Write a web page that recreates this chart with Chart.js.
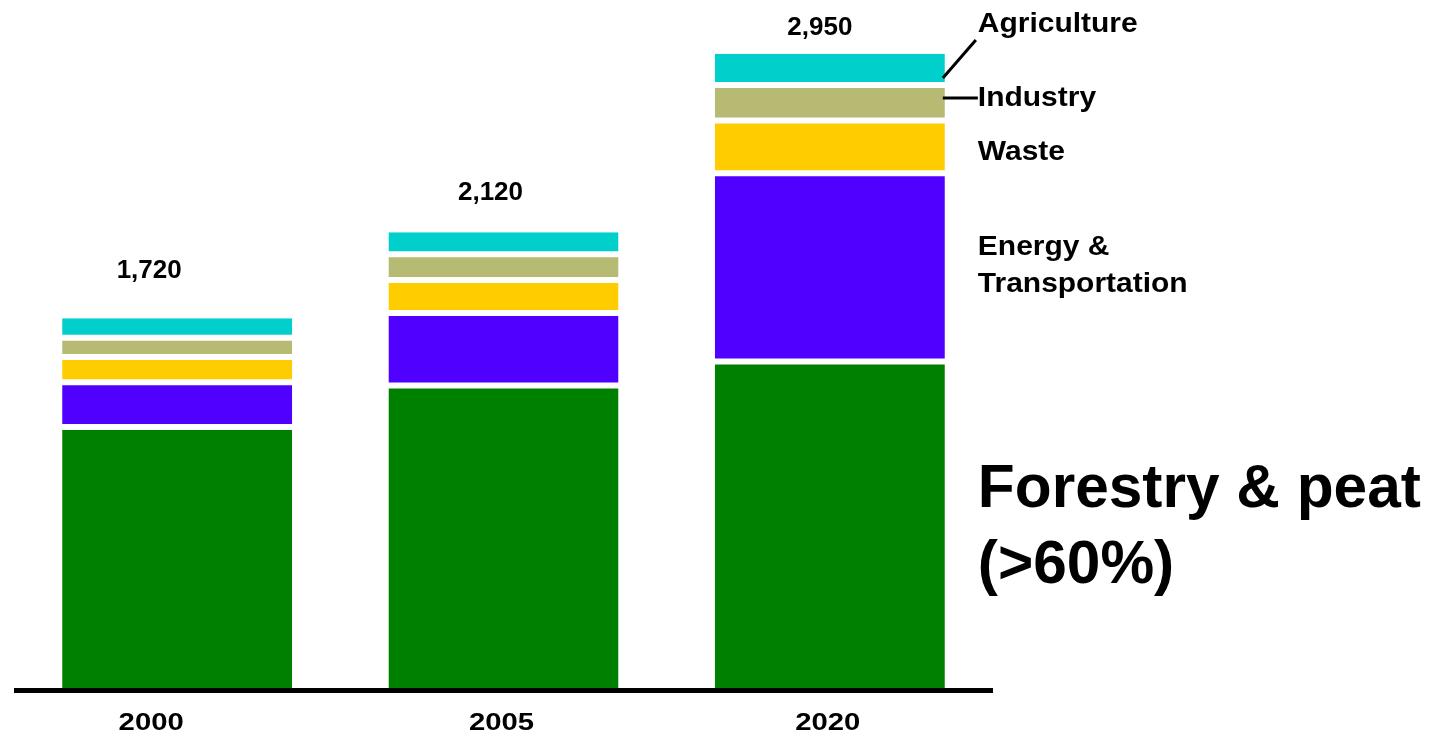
<!DOCTYPE html>
<html>
<head>
<meta charset="utf-8">
<script src="https://cdn.jsdelivr.net/npm/chart.js@4/dist/chart.umd.min.js"></script>
<style>
html,body{margin:0;padding:0;background:#fff;}
#wrap{position:relative;width:1435px;height:735px;}
</style>
</head>
<body>
<div id="wrap"><canvas id="c"></canvas></div>
<script>
const categories = ['2000', '2005', '2020'];
const forestryPeat = [1214, 1407, 1519];
const energyTransport = [208, 337, 875];
const waste = [117, 154, 245];
const industry = [90, 119, 166];
const agriculture = [91, 103, 145];

const seriesNames = ['Forestry & peat', 'Energy & Transportation', 'Waste', 'Industry', 'Agriculture'];
const seriesColors = ['#008000', '#4F00FF', '#FFCC00', '#B6BA72', '#00CFCC'];
const seriesValues = [forestryPeat, energyTransport, waste, industry, agriculture];

const totals = categories.map((_, i) => seriesValues.reduce((s, arr) => s + arr[i], 0));

const FONT = '"Liberation Sans", Arial, sans-serif';

const datasets = seriesValues.map((vals, k) => ({
  label: seriesNames[k],
  data: vals,
  backgroundColor: seriesColors[k],
  borderColor: '#ffffff',
  borderSkipped: false,
  borderWidth: k === 0 ? {top: 3, bottom: 0, left: 0, right: 0}
             : k === seriesValues.length - 1 ? {top: 0, bottom: 3, left: 0, right: 0}
             : {top: 3, bottom: 3, left: 0, right: 0},
  barPercentage: 0.705,
  categoryPercentage: 1.0
}));

function textScaled(ctx, text, x, y, sx, align) {
  ctx.save();
  ctx.translate(x, y);
  ctx.scale(sx, 1);
  ctx.textAlign = align;
  ctx.fillText(text, 0, 0);
  ctx.restore();
}

const annotate = {
  id: 'annotate',
  afterDatasetsDraw(chart) {
    const ctx = chart.ctx;
    const area = chart.chartArea;
    const ys = chart.scales.y;
    const xs = chart.scales.x;
    ctx.save();
    // baseline axis
    ctx.strokeStyle = '#000';
    ctx.lineWidth = 5;
    ctx.beginPath();
    ctx.moveTo(area.left, area.bottom + 2.5);
    ctx.lineTo(area.right, area.bottom + 2.5);
    ctx.stroke();

    ctx.fillStyle = '#000';
    ctx.textBaseline = 'alphabetic';

    // category labels
    const yearDx = [-26, -2, -2];
    ctx.font = 'bold 24px ' + FONT;
    categories.forEach((c, i) => {
      textScaled(ctx, c, xs.getPixelForValue(i) + yearDx[i], 730, 1.22, 'center');
    });

    // totals above bars
    const totDx = [-28, -13, -10];
    const totDy = [40, 32, 19];
    ctx.font = 'bold 25px ' + FONT;
    totals.forEach((t, i) => {
      const x = xs.getPixelForValue(i) + totDx[i];
      const y = ys.getPixelForValue(t) - totDy[i];
      textScaled(ctx, t.toLocaleString('en-US'), x, y, 1.04, 'center');
    });

    // right-side series labels next to last bar
    const meta = chart.getDatasetMeta(0);
    const lastBar = meta.data[meta.data.length - 1];
    const barRight = lastBar.x + lastBar.width / 2;
    const tx = barRight + 33;
    ctx.font = 'bold 28px ' + FONT;
    const sx = 1.07;
    textScaled(ctx, 'Agriculture', tx, 32, sx, 'left');
    textScaled(ctx, 'Industry', tx, 106, sx, 'left');
    textScaled(ctx, 'Waste', tx, 160, sx, 'left');
    textScaled(ctx, 'Energy &', tx, 255, sx, 'left');
    textScaled(ctx, 'Transportation', tx, 292, sx, 'left');
    ctx.font = 'bold 61px ' + FONT;
    textScaled(ctx, 'Forestry & peat', tx, 507, 0.99, 'left');
    textScaled(ctx, '(>60%)', tx, 583, 0.99, 'left');

    // leader lines
    ctx.lineWidth = 3;
    ctx.beginPath();
    ctx.moveTo(barRight - 2, 78);
    ctx.lineTo(tx - 2, 40);
    ctx.moveTo(barRight - 2, 98);
    ctx.lineTo(tx, 98);
    ctx.stroke();
    ctx.restore();
  }
};

new Chart(document.getElementById('c'), {
  type: 'bar',
  data: { labels: categories, datasets },
  options: {
    responsive: true,
    maintainAspectRatio: false,
    animation: false,
    layout: { padding: { left: 14, right: 442, top: 0, bottom: 47 } },
    plugins: { legend: { display: false }, tooltip: { enabled: false } },
    scales: {
      x: { stacked: true, display: false },
      y: { stacked: true, display: false, min: 0, max: 3200 }
    }
  },
  plugins: [annotate]
});
</script>
</body>
</html>
